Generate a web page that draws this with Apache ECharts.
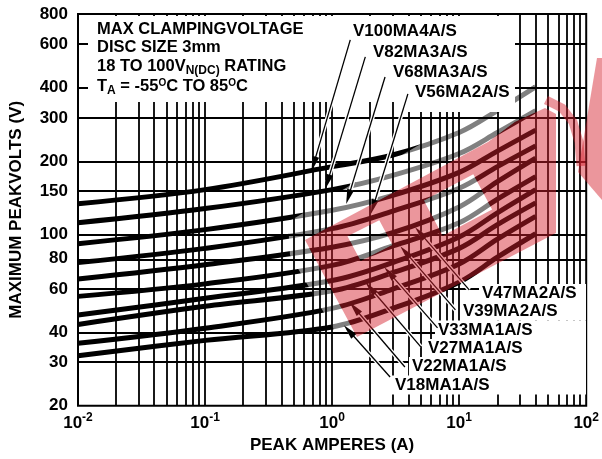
<!DOCTYPE html>
<html><head><meta charset="utf-8">
<script src="https://cdn.jsdelivr.net/npm/echarts@6/dist/echarts.min.js"></script>
<style>html,body{margin:0;padding:0;background:#fff}#c{width:602px;height:459px}</style>
</head><body><div id="c"></div>
<script>
// ---- data (peak amperes vs maximum peak volts) ----
const currents = [0.01, 0.1, 1, 3, 10, 20, 40];
const V100MA4A = [134, 153, 190, 212, 262, 322, 403];
const V82MA3A  = [112, 128, 153, 175, 215, 262, 322];
const V68MA3A  = [92, 105, 126, 145, 180, 220, 268];
const V56MA2A  = [77, 88, 106, 125, 155, 190, 231];
const V47MA2A  = [66, 75.5, 89, 102, 130, 165, 206];
const V39MA2A  = [56, 63, 75, 90, 112, 140, 173];
const V33MA1A  = [47, 55, 65, 77, 98, 123, 153];
const V27MA1A  = [43, 51, 59, 70, 88, 110, 135];
const V22MA1A  = [36, 41.5, 50, 60, 76, 96, 119];
const V18MA1A  = [32, 37, 42, 50, 64, 81, 101];
const seriesNames = ['V100MA4A/S','V82MA3A/S','V68MA3A/S','V56MA2A/S','V47MA2A/S','V39MA2A/S','V33MA1A/S','V27MA1A/S','V22MA1A/S','V18MA1A/S'];
const seriesValues = [V100MA4A, V82MA3A, V68MA3A, V56MA2A, V47MA2A, V39MA2A, V33MA1A, V27MA1A, V22MA1A, V18MA1A];
const xTickExponents = [-2, -1, 0, 1, 2];
const yTickLabels = [20, 30, 40, 60, 80, 100, 150, 200, 300, 400, 600, 800];
const xGridValues = [0.02,0.03,0.04,0.05,0.06,0.07,0.08,0.09,0.1,0.2,0.3,0.4,0.5,0.6,0.7,0.8,0.9,1,2,3,4,5,6,7,8,9,10,20,30,40,50,60,70,80,90];
const yGridValues = [30, 40, 60, 80, 100, 150, 200, 300, 400, 600];
// annotation arrows: from label (A, V) to curve (A, V)
const arrowFrom = [[1.39,627],[1.825,534],[2.61,442],[3.95,377],[12.0,59.5],[9.35,49.3],[6.76,41.6],[4.99,34.8],[3.74,28.8],[2.86,26.2]];
const arrowTo   = [[0.716,195],[0.92,164.7],[1.343,143],[2.10,130],[4.92,101.8],[3.76,85.1],[2.82,69.9],[2.00,60.6],[1.50,50.2],[1.355,40.5]];

// ---- layout ----
const FONT = '"Liberation Sans", Arial, Helvetica, sans-serif';
const labelPos = [[353,31],[373,52],[393,72],[415,92],[482,293.5],[463,311],[438,330],[428,348.5],[412,366.5],[395,385]];
const L10 = Math.log10;
const ARROW = 'path://M5 0L10 20L0 20Z';
const PINK = 'rgba(213,32,44,0.47)';
const HALO = 'rgba(255,255,255,0.5)';

const chart = echarts.init(document.getElementById('c'), null, {renderer: 'canvas'});

const curveSeries = seriesValues.map((vals, si) => ({
  name: seriesNames[si],
  type: 'line',
  data: currents.map((c, i) => [L10(c), L10(vals[i])]),
  smooth: 0.35,
  symbol: 'none',
  showSymbol: false,
  silent: true,
  z: 2,
  lineStyle: {color: '#000', width: 5}
}));

const anchor = [[L10(currents[0]), L10(yTickLabels[0])]];
function helperSeries(z, markLine) {
  return {type: 'line', data: anchor, symbol: 'none', showSymbol: false, silent: true, z: z,
          lineStyle: {width: 0, opacity: 0}, markLine: Object.assign({z: z}, markLine)};
}
const gridLines = [
  ...xGridValues.map(v => ({xAxis: L10(v)})),
  ...yGridValues.map(v => ({yAxis: L10(v)}))
];
const pairs = arrowFrom.map((f, i) => [
  {coord: [L10(f[0]), L10(f[1])]},
  {coord: [L10(arrowTo[i][0]), L10(arrowTo[i][1])], symbolSize: [7, 15]}
]);
const extraSeries = [
  helperSeries(4, {
    silent: true, symbol: ['none','none'], label: {show: false}, emphasis: {disabled: true},
    lineStyle: {color: '#000', width: 1.8, type: 'solid', opacity: 1},
    data: gridLines
  }),
  helperSeries(6, {
    silent: true, symbol: ['none','none'], label: {show: false}, emphasis: {disabled: true},
    lineStyle: {color: '#fff', width: 4, type: 'solid', opacity: 1},
    data: pairs.map(p => [{coord: p[0].coord}, {coord: p[1].coord}])
  }),
  helperSeries(7, {
    silent: true, symbol: ['none', ARROW], symbolSize: [1, 14], label: {show: false}, emphasis: {disabled: true},
    lineStyle: {color: '#000', width: 1.3, type: 'solid', opacity: 1},
    itemStyle: {color: '#000'},
    data: pairs
  })
];

// watermark geometry
const bandPts = [[305,240],[488,142],[515,122],[545,108],[556,114],[556,233],[357,337],
  [423.9,200.4],[442.7,235.8],[492.1,209.6],[473.3,174.2],[423.9,200.4],[357,337],
  [347.5,236.2],[360.7,261],[392.5,245],[379.3,220.2],[347.5,236.2],[357,337]];
const haloPts = [[470,115],[288,222],[290,255],[343,345],[357,337],[305,240],[488,142],[515,122],[545,108],[545,80]];
const holeA = [[347.5,236.2],[360.7,261],[392.5,245],[379.3,220.2]];
const holeB = [[423.9,200.4],[442.7,235.8],[492.1,209.6],[473.3,174.2]];

const titleRich = {
  m: {fontSize: 16.5, fontWeight: 'bold', fontFamily: FONT, fill: '#000', lineHeight: 18, verticalAlign: 'top'},
  sub: {fontSize: 12, fontWeight: 'bold', fontFamily: FONT, fill: '#000', lineHeight: 12, padding: [7,0,0,0], verticalAlign: 'top'},
  sup: {fontSize: 10, fontWeight: 'bold', fontFamily: FONT, fill: '#000', lineHeight: 10, verticalAlign: 'top'}
};
const titleLines = [
  '{m|MAX CLAMPINGVOLTAGE}',
  '{m|DISC SIZE 3mm}',
  '{m|18 TO 100V}{sub|N(DC)}{m| RATING}',
  '{m|T}{sub|A}{m| = -55}{sup|O}{m|C TO 85}{sup|O}{m|C}'
];
const titleY = [30, 48, 67, 87];

const graphics = [
  {type: 'polygon', z: 3, silent: true, shape: {points: haloPts}, style: {fill: HALO}},
  {type: 'polygon', z: 3, silent: true, shape: {points: holeA}, style: {fill: HALO}},
  {type: 'polygon', z: 3, silent: true, shape: {points: holeB}, style: {fill: HALO}},
  {type: 'rect', z: 5, silent: true, shape: {x: 88, y: 16, width: 312, height: 86}, style: {fill: '#fff'}},
  {type: 'rect', z: 5, silent: true, shape: {x: 400, y: 16, width: 115, height: 96}, style: {fill: '#fff'}},
  ...titleLines.map((t, i) => ({type: 'text', z: 6, silent: true, x: 97, y: titleY[i],
      style: {text: t, rich: titleRich, verticalAlign: 'middle', align: 'left'}})),
  ...labelPos.slice(4).map(p => ({type: 'rect', z: 5, silent: true,
      shape: {x: p[0] - 3, y: p[1] - 9.5, width: 586 - (p[0] - 3), height: 19}, style: {fill: '#fff'}})),
  ...labelPos.map((p, i) => ({type: 'text', z: 6, silent: true, x: p[0], y: p[1],
      style: {text: seriesNames[i], fontSize: 17, fontWeight: 'bold', fontFamily: FONT, fill: '#000', verticalAlign: 'middle', align: 'left'}})),
  {type: 'polygon', z: 10, silent: true, shape: {points: bandPts}, style: {fill: PINK}},
  {type: 'polyline', z: 10, silent: true, shape: {points: [[546,100],[562,108],[573,122],[579,142],[581,166]]},
      style: {stroke: PINK, lineWidth: 9, fill: null}},
  {type: 'polygon', z: 10, silent: true, shape: {points: [[578,172],[602,200],[602,58],[597,58]]}, style: {fill: PINK}}
];

chart.setOption({
  animation: false,
  backgroundColor: '#fff',
  grid: {left: 77, right: 12, top: 14, bottom: 53.3, show: true, borderColor: '#000', borderWidth: 2, backgroundColor: 'transparent'},
  xAxis: {
    type: 'value', min: -2, max: 2, interval: 1,
    axisLine: {show: false}, axisTick: {show: false}, splitLine: {show: false},
    axisLabel: {
      margin: 6,
      formatter: v => xTickExponents.includes(v) ? '{b|10}{s|' + v + '}' : '',
      rich: {
        b: {fontSize: 17, fontWeight: 'bold', fontFamily: FONT, color: '#000', lineHeight: 20, verticalAlign: 'bottom'},
        s: {fontSize: 12, fontWeight: 'bold', fontFamily: FONT, color: '#000', lineHeight: 12, verticalAlign: 'top'}
      }
    },
    name: 'PEAK AMPERES (A)', nameLocation: 'middle', nameGap: 30,
    nameTextStyle: {fontSize: 17, fontWeight: 'bold', fontFamily: FONT, color: '#000'}
  },
  yAxis: {
    type: 'value', min: L10(20), max: L10(800),
    axisLine: {show: false}, axisTick: {show: false}, splitLine: {show: false},
    axisLabel: {
      customValues: yTickLabels.map(L10),
      formatter: v => String(Math.round(Math.pow(10, v))),
      margin: 10, fontSize: 17, fontWeight: 'bold', fontFamily: FONT, color: '#000'
    },
    name: 'MAXIMUM PEAKVOLTS (V)', nameLocation: 'middle', nameRotate: 90, nameGap: 53,
    nameTextStyle: {fontSize: 17, fontWeight: 'bold', fontFamily: FONT, color: '#000'}
  },
  series: curveSeries.concat(extraSeries),
  graphic: {elements: graphics}
});
</script></body></html>
